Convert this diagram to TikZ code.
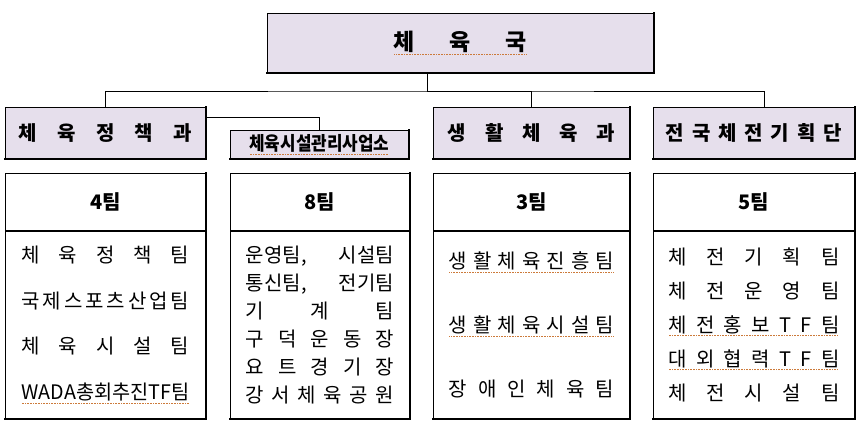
\documentclass[tikz,border=0pt]{standalone}
\usepackage{fontspec}
\setmainfont{Noto Sans CJK KR}
\usepackage{graphicx}
\usetikzlibrary{positioning}
\definecolor{lav}{HTML}{E6DFEC}
\definecolor{squig}{HTML}{CC7A3A}
\tikzset{
  thickrim/.style={line width=2.2pt, line cap=rect},
  rim/.style={append after command={(\tikzlastnode.north east) edge[thickrim] (\tikzlastnode.south east)}},
  rimbottom/.style={append after command={(\tikzlastnode.north east) edge[thickrim] (\tikzlastnode.south east)
      (\tikzlastnode.south east) edge[thickrim] (\tikzlastnode.south west)}},
  orgbox/.style={draw, line width=0.8pt, fill=lav, rimbottom, inner sep=0pt, anchor=north west},
  teamhead/.style={draw, line width=0.8pt, rim, minimum height=57pt, inner sep=0pt, anchor=north west,
      font=\fontsize{20}{22}\selectfont\bfseries},
  teamlist/.style={draw, line width=0.8pt, rimbottom, minimum height=187pt, inner sep=0pt, align=center}
}
% spread text to a given width
\newcommand\spread[2]{\makebox[#1][s]{#2}}
\newcommand\spreadchars[2]{\makebox[#1][s]{\spreadfirst#2\relax}}
\def\spreadfirst#1{#1\spreadnext}
\def\spreadnext#1{\ifx#1\relax\else\hfil#1\expandafter\spreadnext\fi}
% dotted spell-check line under text
\newsavebox\sqbox
\newcommand\squiggle[1]{\sbox\sqbox{#1}\rlap{\raisebox{-4pt}{\color{squig}\leaders\hbox to 1.6pt{\hss\rule{0.8pt}{0.8pt}\hss}\hskip\wd\sqbox}}\usebox\sqbox}
\begin{document}
\begin{tikzpicture}[x=1pt, y=-1pt]
\useasboundingbox (0,0) rectangle (860,425);

% offices
\node[orgbox, minimum width=386pt, minimum height=59pt, font=\fontsize{23}{26}\selectfont\bfseries]
  (guk) at (267,13) {\squiggle{\spread{133pt}{체 육 국}}};
\node[orgbox, minimum width=200pt, minimum height=51pt, font=\fontsize{20}{24}\selectfont\bfseries]
  (gwa1) at (5,107) {\spread{173pt}{체 육 정 책 과}};
\node[orgbox, minimum width=178pt, minimum height=28pt, font=\fontsize{19}{20}\selectfont\bfseries]
  (saup) at (230,130) {\squiggle{\resizebox{140pt}{\height}{체육시설관리사업소}}};
\node[orgbox, minimum width=196pt, minimum height=51pt, font=\fontsize{20}{24}\selectfont\bfseries]
  (gwa2) at (433,107) {\spread{167pt}{생 활 체 육 과}};
\node[orgbox, minimum width=201pt, minimum height=51pt, font=\fontsize{20}{24}\selectfont\bfseries]
  (dan) at (653,107) {\spreadchars{176pt}{전국체전기획단}};

% connectors
\coordinate (bus) at (427,91);
\draw[line width=0.8pt] (guk.south -| bus) -- (bus);
\draw[line width=0.8pt] (gwa1.north) |- (bus) -| ([xshift=10pt]dan.north);
\draw[line width=0.8pt] (bus) -| (gwa2.north);
\draw[line width=0.8pt] ([yshift=-10pt]gwa1.north east) -| (saup.north);

% teams
\node[teamhead, minimum width=200pt] (headA) at (5,173) {4팀};
\node[teamlist, minimum width=200pt, below=0pt of headA, font=\fontsize{20}{45.7}\selectfont] (listA) {%
  \spread{168pt}{체 육 정 책 팀}\\
  \spreadchars{168pt}{국제스포츠산업팀}\\
  \spread{168pt}{체 육 시 설 팀}\\
  \squiggle{\resizebox{168pt}{\height}{WADA총회추진TF팀}}};

\node[teamhead, minimum width=179pt] (headB) at (230,173) {8팀};
\node[teamlist, minimum width=179pt, below=0pt of headB, font=\fontsize{20}{28}\selectfont] (listB) {%
  \spread{148pt}{운영팀, 시설팀}\\
  \spread{148pt}{통신팀, 전기팀}\\
  \spread{148pt}{기 계 팀}\\
  \spread{148pt}{구 덕 운 동 장}\\
  \spread{148pt}{요 트 경 기 장}\\
  \spread{148pt}{강 서 체 육 공 원}};

\node[teamhead, minimum width=196pt] (headC) at (433,173) {3팀};
\node[teamlist, minimum width=196pt, below=0pt of headC, font=\fontsize{20}{64}\selectfont] (listC) {%
  \squiggle{\spreadchars{165pt}{생활체육진흥팀}}\\
  \squiggle{\spreadchars{165pt}{생활체육시설팀}}\\
  \spread{165pt}{장 애 인 체 육 팀}};

\node[teamhead, minimum width=201pt] (headD) at (653,173) {5팀};
\node[teamlist, minimum width=201pt, below=0pt of headD, font=\fontsize{20}{34}\selectfont] (listD) {%
  \spread{171pt}{체 전 기 획 팀}\\
  \spread{171pt}{체 전 운 영 팀}\\
  \squiggle{\spread{171pt}{체 전 홍 보 T F 팀}}\\
  \squiggle{\spread{171pt}{대 외 협 력 T F 팀}}\\
  \spread{171pt}{체 전 시 설 팀}};
\end{tikzpicture}
\end{document}
